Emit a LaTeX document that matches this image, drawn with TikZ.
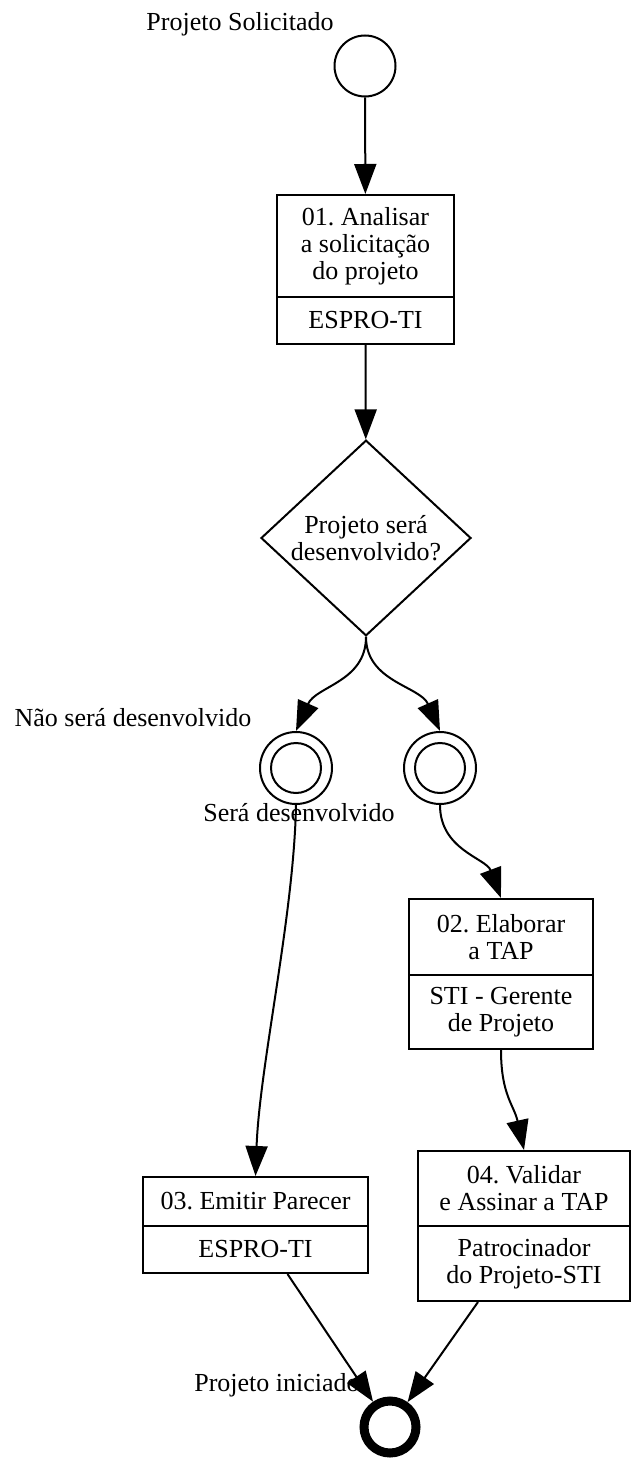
\documentclass[tikz,border=0pt]{standalone}
\usepackage{fontspec}
\setmainfont{Liberation Serif}
\frenchspacing
\usetikzlibrary{arrows.meta}
\usetikzlibrary{positioning}
\usetikzlibrary{shapes.geometric}
\usetikzlibrary{calc}
\tikzset{task/.style = {draw, rectangle, line width = 1pt, inner sep = 0, align = center}}
\tikzset{flow/.style = {line width = 1pt, -{Triangle[length = 15pt, width = 11pt]}}}
\tikzset{evt/.style = {draw, circle, line width = 1pt, inner sep = 0}}

\begin{document}
\begin{tikzpicture}[x = 0.5pt, y = -0.5pt, font = \fontsize{13}{13.5}\selectfont]
      \useasboundingbox (0, 0) rectangle (632, 1459);
      \node [evt, minimum size = 30.5pt] (inicio) at (365, 66) {};
      \node (lblinicio) at (240, 24) {Projeto Solicitado};
      \node [task, minimum width = 88.5pt, minimum height = 51pt] (a01) at (365.5, 246) {01. Analisar\\a solicitação\\do projeto};
      \node [task, minimum width = 88.5pt, minimum height = 23.5pt] (a01r) at (365.5, 320.5) {ESPRO-TI};
      \node [draw, diamond, line width = 1pt, inner sep = 0, minimum width = 105pt, minimum height = 95pt, align = center] (dec) at (366, 538) {Projeto será\\desenvolvido?};
      \foreach \n/\x in {nao/296, sim/440} {
        \node [evt, minimum size = 36pt] (\n) at (\x, 768) {};
        \node [evt, minimum size = 25pt] (\n-in) at (\x, 768) {};
      }
      \node (lblnao) at (133, 718) {Não será desenvolvido};
      \node (lblsim) at (299, 813) {Será desenvolvido};
      \node [task, minimum width = 92pt, minimum height = 38pt] (a02) at (501, 937) {02. Elaborar\\a TAP};
      \node [task, minimum width = 92pt, minimum height = 37pt] (a02r) at (501, 1012) {STI - Gerente\\de Projeto};
      \node [task, minimum width = 112.5pt, minimum height = 24.5pt] (a03) at (255.5, 1201.5) {03. Emitir Parecer};
      \node [task, minimum width = 112.5pt, minimum height = 23.5pt] (a03r) at (255.5, 1249.5) {ESPRO-TI};
      \node [task, minimum width = 106pt, minimum height = 37.5pt] (a04) at (524, 1188.5) {04. Validar\\e Assinar a TAP};
      \node [task, minimum width = 106pt, minimum height = 37.5pt] (a04r) at (524, 1263.5) {Patrocinador\\do Projeto-STI};
      \node (lblfim) at (277, 1385) {Projeto iniciado};
      \node [draw, circle, line width = 4.5pt, inner sep = 0, minimum size = 26pt] (fim) at (390, 1427) {};
      \draw [flow] (inicio) -- (a01);
      \draw [flow] (a01r) -- (dec);
      \draw [flow] (dec.south) .. controls +(0, 45) and +(20, -45) .. (nao.north);
      \draw [flow] (dec.south) .. controls +(0, 45) and +(-20, -45) .. (sim.north);
      \draw [flow] (nao.south) .. controls +(-2, 110) and +(4, -110) .. (a03.north);
      \draw [flow] (sim.south) .. controls +(0, 45) and +(-15, -40) .. (a02.north);
      \draw [flow] (a02r.south) .. controls +(0, 45) and +(-10, -45) .. (a04.north);
      \draw [flow] ($(a03r.south) + (32, 0)$) -- (fim);
      \draw [flow] ($(a04r.south) + (-46, 0)$) -- (fim);
    \end{tikzpicture}
\end{document}
